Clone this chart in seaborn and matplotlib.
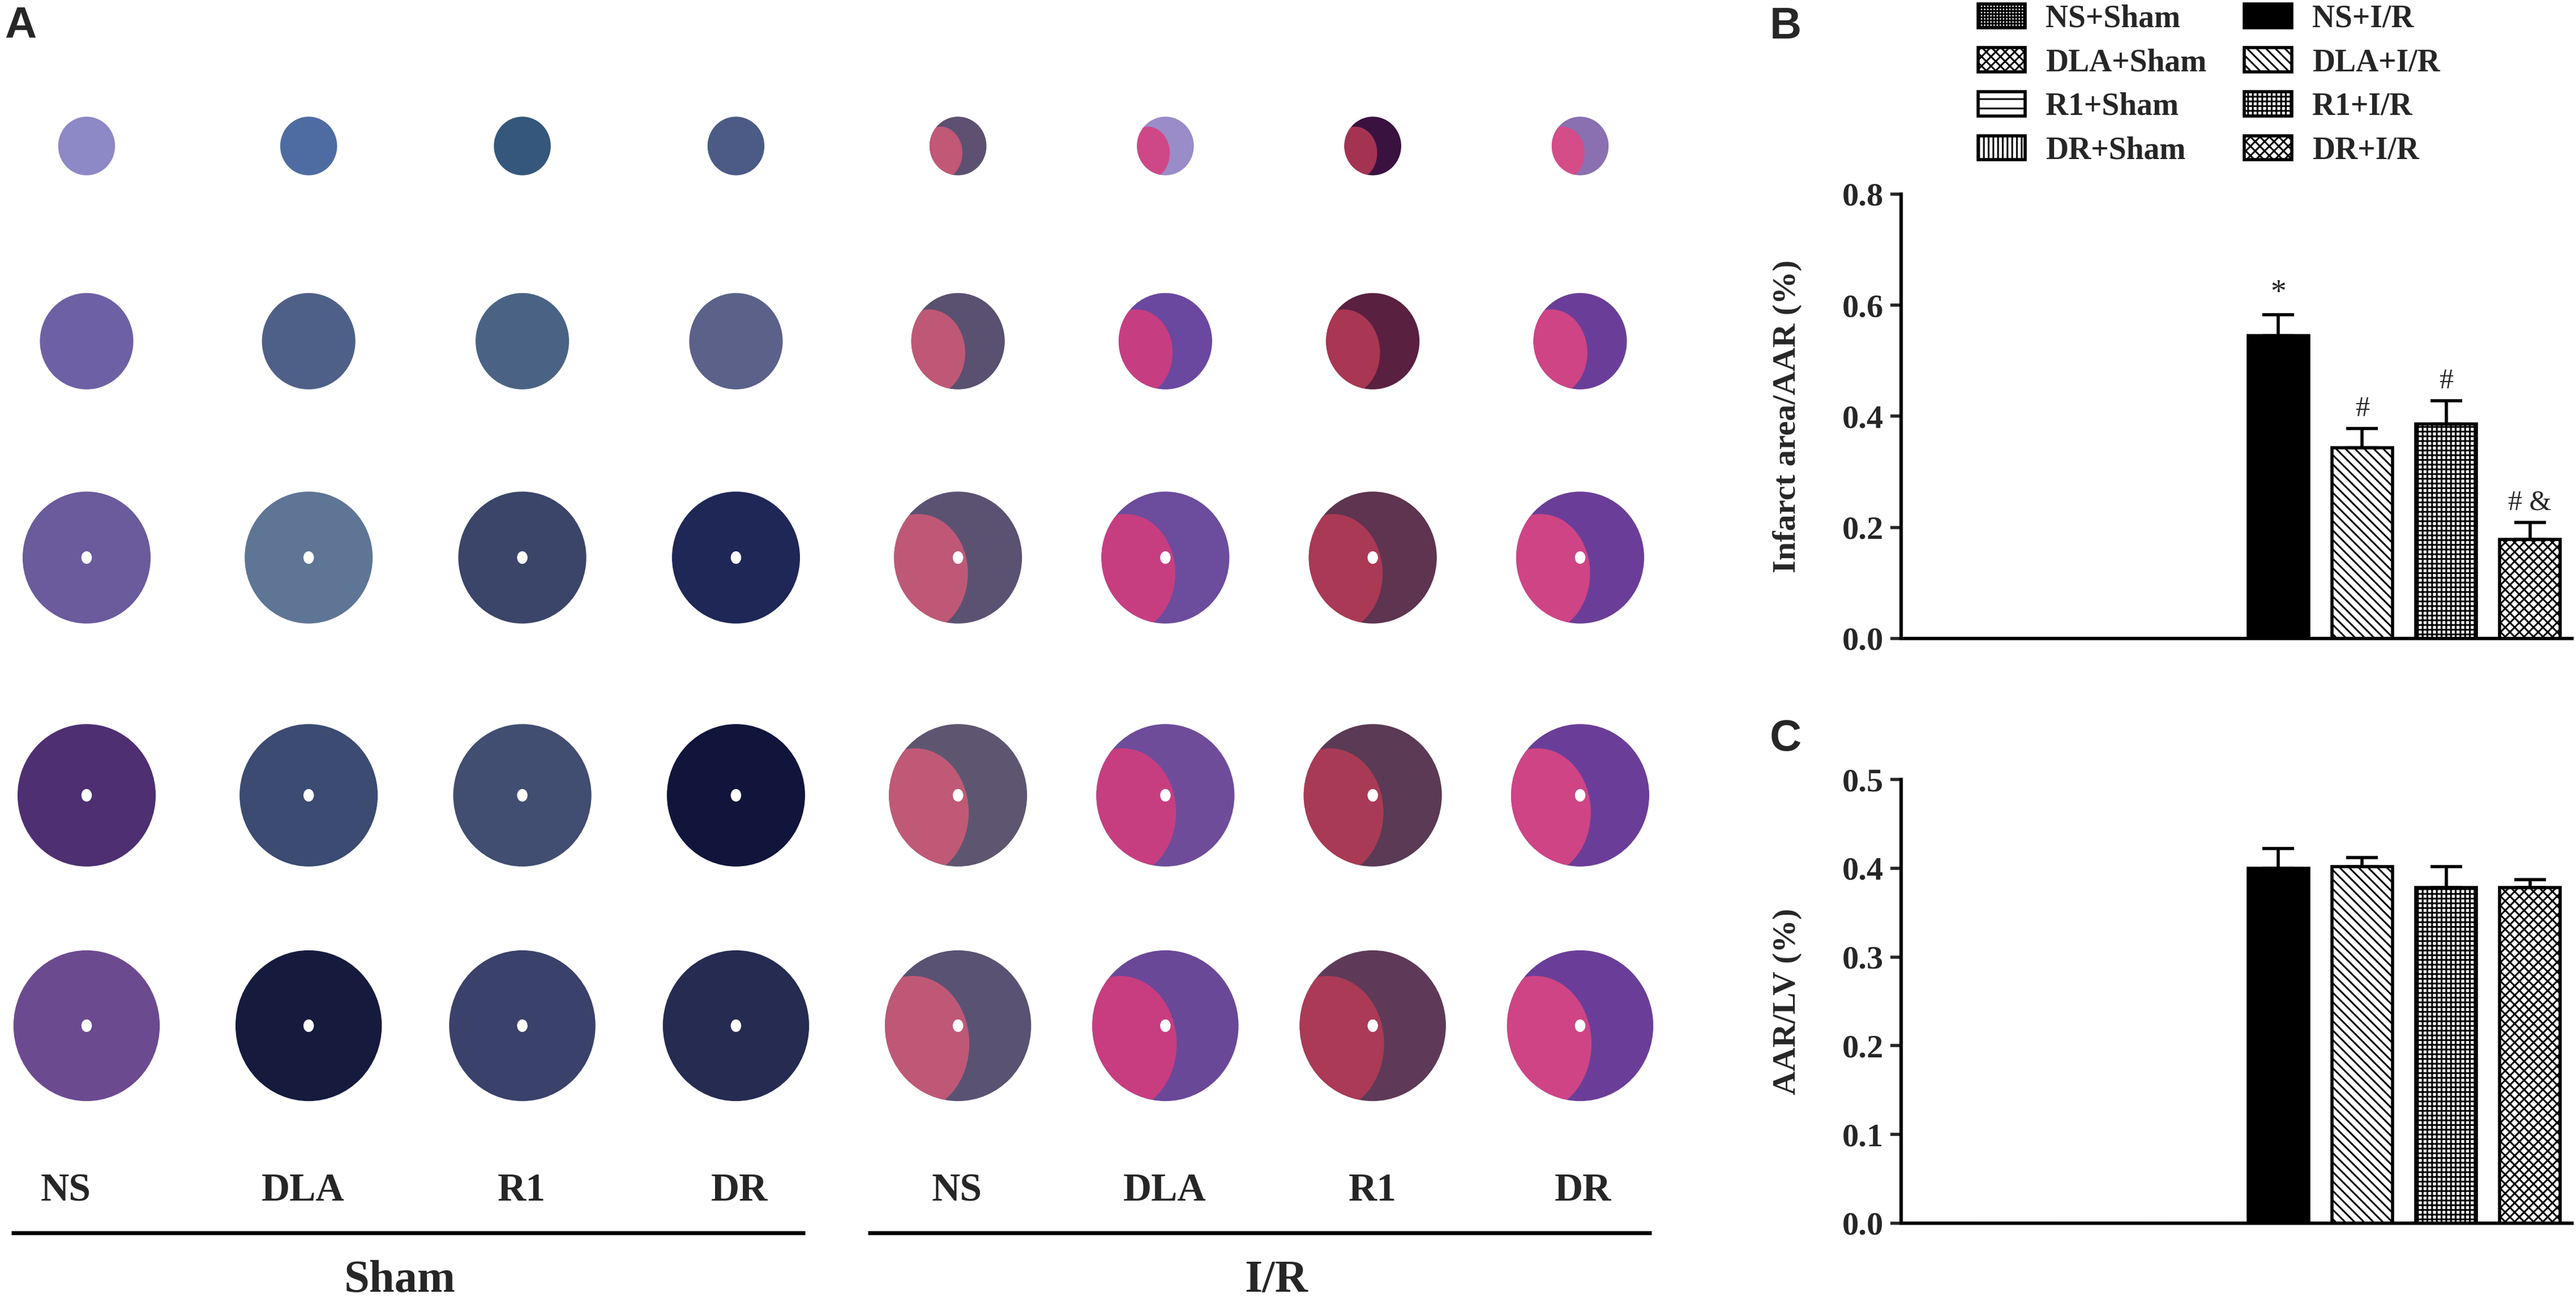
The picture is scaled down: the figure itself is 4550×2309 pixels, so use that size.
import matplotlib
matplotlib.use('Agg')
import matplotlib.pyplot as plt
from matplotlib.patches import Ellipse
from matplotlib.ticker import FormatStrFormatter, MultipleLocator
import seaborn as sns

# Data
groups = ['NS+Sham', 'DLA+Sham', 'R1+Sham', 'DR+Sham',
          'NS+I/R', 'DLA+I/R', 'R1+I/R', 'DR+I/R']
infarct_mean = [0, 0, 0, 0, 0.545, 0.343, 0.386, 0.178]
infarct_sem = [0, 0, 0, 0, 0.038, 0.035, 0.042, 0.031]
infarct_marks = ['', '', '', '', '*', '#', '#', '# &']
aar_mean = [0, 0, 0, 0, 0.400, 0.402, 0.378, 0.378]
aar_sem = [0, 0, 0, 0, 0.022, 0.010, 0.024, 0.009]

treatments = ['NS', 'DLA', 'R1', 'DR']
conditions = ['Sham', 'I/R']
# relative slice diameter, apex (top row) -> base (bottom row)
slice_diam = [0.28, 0.46, 0.63, 0.68, 0.72]

# Styles / layout of panel A
hatches = ['+++', 'xx', '-', '||', '', '\\\\', '++', 'xx']
faces = ['white'] * 4 + ['black'] + ['white'] * 3
sham_colors = [
    ['#8d88c6', '#6e60a4', '#6b5a9c', '#4d2f72', '#6c4a90'],
    ['#4f6ca2', '#4f6088', '#5f7595', '#3b4b72', '#161b3e'],
    ['#35577c', '#4a6385', '#3b4569', '#414d71', '#3a416b'],
    ['#4b5b85', '#5b6189', '#1f2757', '#11153b', '#262b51'],
]
ir_colors = [
    ['#5d5070', '#5a5070', '#5b5272', '#5e5670', '#5a5272'],
    ['#9a8cc8', '#6a48a0', '#6c4c9c', '#6e4c9a', '#6a4898'],
    ['#3a1240', '#5a2040', '#5e3450', '#5a3a55', '#5e3a58'],
    ['#8a70b0', '#6a3e98', '#6a3e98', '#6a3e98', '#6a3e98'],
]
infarct_colors = ['#d25a78', '#d83c7c', '#b83a56', '#e24682']
col_pos = [0, 1.06, 2.08, 3.1, 4.16, 5.15, 6.14, 7.13]
label_pos = [-0.1, 1.032, 2.078, 3.116, 4.154, 5.146, 6.138, 7.143]
row_pos = [0, 0.932, 1.965, 3.1, 4.2]

sns.set_style('ticks')
plt.rcParams['font.family'] = ['Liberation Serif', 'DejaVu Serif']
plt.rcParams['font.weight'] = 'bold'
plt.rcParams['hatch.linewidth'] = 2.2
plt.rcParams['axes.linewidth'] = 4.3
plt.rcParams['axes.edgecolor'] = 'black'

fig = plt.figure(figsize=(45.5, 23.09), dpi=100)

# ---- Panel A: stained heart slices ----
axA = fig.add_axes([0, 0, 3050 / 4550, 1])
axA.set_xlim(-0.4135, 7.83)
axA.set_ylim(5.543, -0.697)
axA.axis('off')

for r, diam in enumerate(slice_diam):
    y = row_pos[r]
    for c, x in enumerate(col_pos):
        t = c % 4
        base_color = sham_colors[t][r] if c < 4 else ir_colors[t][r]
        base = Ellipse((x, y), diam * 0.97, diam, color=base_color, lw=0)
        axA.add_patch(base)
        if c >= 4:
            # pale/red infarct zone on the left free wall
            zone = Ellipse((x - 0.3 * diam, y + 0.12 * diam), 0.75 * diam, 0.9 * diam,
                           color=infarct_colors[t], lw=0, alpha=0.85)
            axA.add_patch(zone)
            zone.set_clip_path(base)
        if r >= 2:
            axA.add_patch(Ellipse((x, y), 0.05, 0.06, color='white', lw=0))

for x, name in zip(label_pos, treatments * 2):
    axA.text(x, 4.99, name, ha='center', va='center', fontsize=50, weight='bold')
axA.plot([-0.36, 3.43], [5.19, 5.19], color='black', lw=5, solid_capstyle='butt')
axA.plot([3.73, 7.47], [5.19, 5.19], color='black', lw=5, solid_capstyle='butt')
axA.text(1.495, 5.47, conditions[0], ha='center', va='baseline', fontsize=58, weight='bold')
axA.text(5.68, 5.47, conditions[1], ha='center', va='baseline', fontsize=58, weight='bold')


def bar_panel(ax, means, sems, marks, ymax, step, ylabel):
    sns.barplot(x=groups, y=means, order=groups, color='white', saturation=1,
                edgecolor='black', linewidth=4, width=0.72, errorbar=None, ax=ax)
    for patch, hatch, face in zip(ax.patches, hatches, faces):
        patch.set_hatch(hatch)
        patch.set_facecolor(face)
        patch.set_edgecolor('black')
    idx = [i for i, s in enumerate(sems) if s > 0]
    ax.errorbar(idx, [means[i] for i in idx],
                yerr=[[0] * len(idx), [sems[i] for i in idx]],
                fmt='none', ecolor='black', elinewidth=4, capsize=20, capthick=4, zorder=3)
    for i, m in enumerate(marks):
        if m:
            ax.annotate(m, (i, means[i] + sems[i]), xytext=(0, 8), textcoords='offset points',
                        ha='center', va='bottom', fontsize=40 if m == '*' else 36,
                        weight='normal')
    ax.set_xlim(-0.5, 7.5)
    ax.set_ylim(0, ymax)
    ax.yaxis.set_major_locator(MultipleLocator(step))
    ax.yaxis.set_major_formatter(FormatStrFormatter('%.1f'))
    ax.set_xticks([])
    ax.set_xlabel('')
    ax.set_ylabel(ylabel, fontsize=42, weight='bold')
    ax.yaxis.set_label_coords(-0.148, 0.5)
    ax.tick_params(axis='y', length=14, width=4, labelsize=42, pad=8)
    sns.despine(ax=ax)


axB = fig.add_axes([0.7380, 0.5115, 0.2604, 0.3400])
bar_panel(axB, infarct_mean, infarct_sem, infarct_marks, 0.8, 0.2, 'Infarct area/AAR (%)')

axC = fig.add_axes([0.7380, 0.0641, 0.2604, 0.3395])
bar_panel(axC, aar_mean, aar_sem, [''] * 8, 0.5, 0.1, 'AAR/LV (%)')

fig.legend(handles=list(axB.patches[:8]), labels=groups, ncol=2, loc='upper left',
           bbox_to_anchor=(3494 / 4550, 0.997), frameon=False, borderpad=0, borderaxespad=0,
           handlelength=1.5, handleheight=0.8, handletextpad=0.65, columnspacing=1.2,
           labelspacing=0.45, prop=dict(family='Liberation Serif', weight='bold', size=40))

for letter, x, y in [('A', 0.0018, 0.9957), ('B', 0.687, 0.9952), ('C', 0.687, 0.4504)]:
    fig.text(x, y, letter, ha='left', va='top', fontsize=56, weight='bold',
             family='Liberation Sans')

fig.savefig('out.png', dpi=100, facecolor='white')
